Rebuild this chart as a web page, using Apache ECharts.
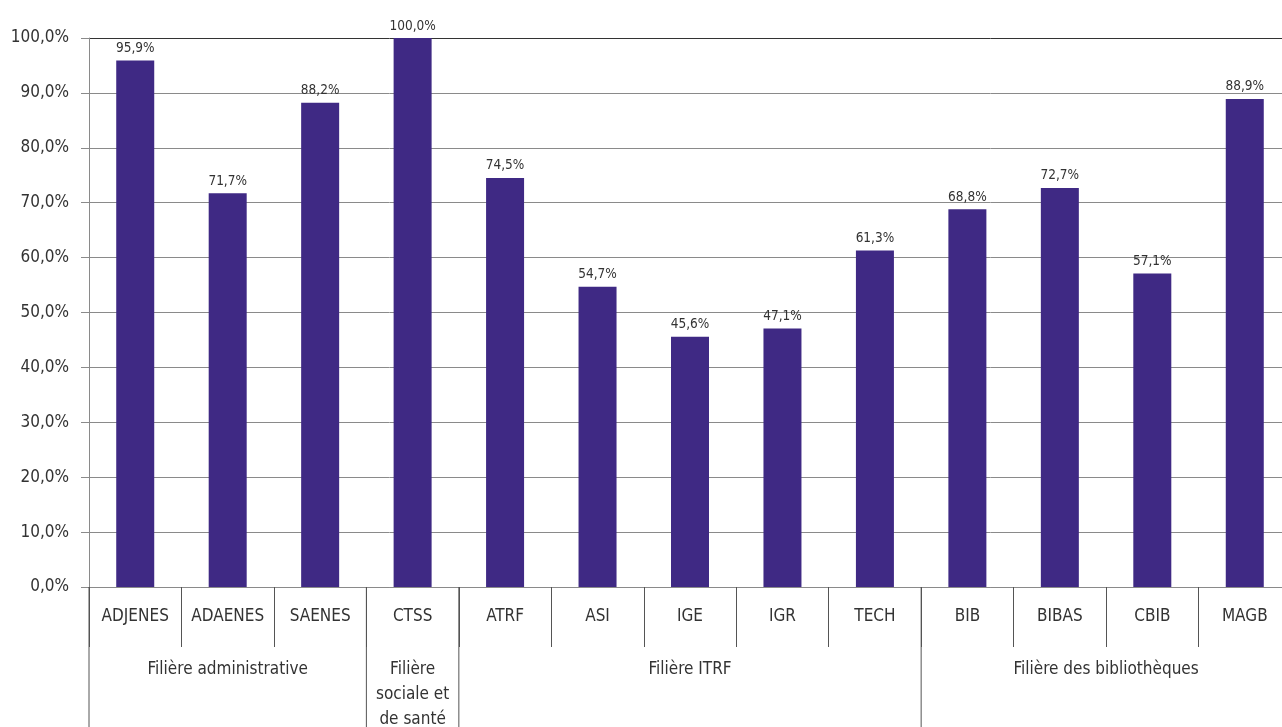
<!DOCTYPE html>
<html>
<head>
<meta charset="utf-8">
<script src="https://cdn.jsdelivr.net/npm/echarts@6/dist/echarts.min.js"></script>
<style>
html,body{margin:0;padding:0;background:#fff;overflow:hidden;width:1282px;height:727px;}
#chart{width:1291px;height:727px;}
</style>
</head>
<body>
<div id="chart"></div>
<script>
const categories = ['ADJENES','ADAENES','SAENES','CTSS','ATRF','ASI','IGE','IGR','TECH','BIB','BIBAS','CBIB','MAGB'];
const values = [95.9, 71.7, 88.2, 100.0, 74.5, 54.7, 45.6, 47.1, 61.3, 68.8, 72.7, 57.1, 88.9];
const groupNames = ['Filière administrative', 'Filière\nsociale et\nde santé', 'Filière ITRF', 'Filière des bibliothèques'];
const groupStart = [0, 3, 4, 9];
const groupEnd = [2, 3, 8, 12];

const FONT = "'DejaVu Sans Condensed', 'Liberation Sans Narrow', 'Roboto', sans-serif";
const fmt = v => v.toFixed(1).replace('.', ',') + '%';
const lineColors = [];
for (let i = 0; i < 10; i++) lineColors.push('#8a8a8a');
lineColors.push('#333333');

const chart = echarts.init(document.getElementById('chart'));
chart.setOption({
  animation: false,
  textStyle: { fontFamily: FONT },
  grid: { left: 89, right: 0, top: 38, bottom: 140, containLabel: false },
  xAxis: {
    type: 'category',
    data: categories,
    axisLine: { show: true, lineStyle: { color: '#8a8a8a', width: 1 } },
    axisTick: { show: true, length: 60, alignWithLabel: false, lineStyle: { color: '#555', width: 1 } },
    axisLabel: { interval: 0, margin: 21, fontSize: 17, color: '#333', fontFamily: FONT }
  },
  yAxis: {
    type: 'value',
    min: 0, max: 100, interval: 10,
    axisLine: { show: true, lineStyle: { color: '#8a8a8a', width: 1 } },
    axisTick: { show: true, length: 8, lineStyle: { color: '#8a8a8a' } },
    splitLine: { show: true, lineStyle: { color: lineColors, width: 1 } },
    axisLabel: { formatter: v => fmt(v), fontSize: 17, color: '#333', margin: 20, fontFamily: FONT }
  },
  series: [
    {
      type: 'bar',
      data: values,
      barWidth: 38,
      itemStyle: { color: '#3f2984' },
      label: {
        show: true, position: 'top', distance: 5,
        formatter: p => fmt(p.value), fontSize: 13.5, color: '#333', fontFamily: FONT
      }
    },
    {
      type: 'custom',
      clip: false,
      silent: true,
      data: groupStart.map(s => [s, 0]),
      renderItem: function (params, api) {
        const i = params.dataIndex;
        const bw = api.size([1, 0])[0];
        const a = api.coord([groupStart[i], 0]);
        const b = api.coord([groupEnd[i], 0]);
        const left = a[0] - bw / 2;
        const right = b[0] + bw / 2;
        const y0 = a[1];
        const yb = y0 + 145;
        return {
          type: 'group',
          children: [
            { type: 'line', shape: { x1: left, y1: y0, x2: left, y2: yb }, style: { stroke: '#555', lineWidth: 1 } },
            { type: 'text', style: { text: groupNames[i], x: (left + right) / 2, y: y0 + 70, align: 'center', verticalAlign: 'top', fontSize: 17, lineHeight: 25, fill: '#333', fontFamily: FONT } }
          ]
        };
      }
    }
  ]
});
</script>
</body>
</html>
